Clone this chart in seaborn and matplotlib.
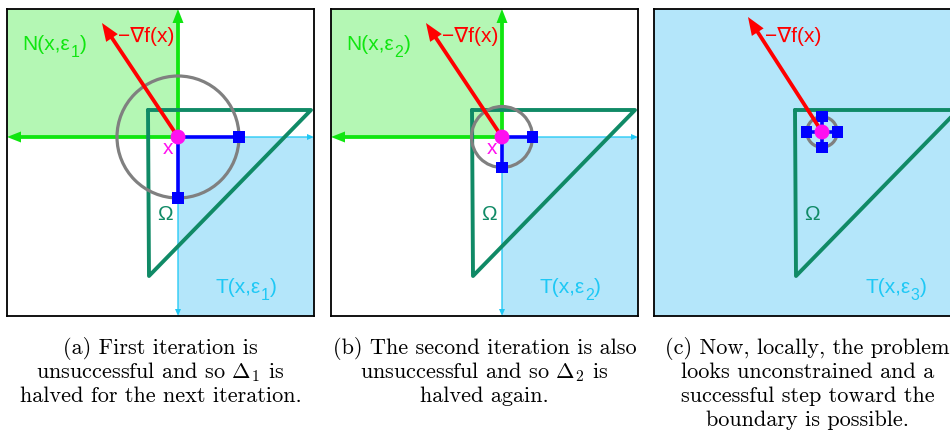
import numpy as np
import pandas as pd
import matplotlib
matplotlib.use("Agg")
import matplotlib.pyplot as plt
from matplotlib.patches import Circle, Rectangle
import seaborn as sns

# ---------------- data (box-pixel units, y pointing down) ----------------
panel_ids = ["a", "b", "c"]
center_x = [171, 171, 168]
center_y = [128, 128, 123]
radii = [61, 30.5, 15.25]
grad_dx = [-76, -76, -74]
grad_dy = [-114, -114, -115]
tri_x = [141, 304, 142]
tri_y = [101, 101, 267]
eps_idx = ["1", "2", "3"]
show_cones = [True, True, False]
poll_dirs = [[(1, 0), (0, 1)], [(1, 0), (0, 1)], [(1, 0), (-1, 0), (0, 1), (0, -1)]]
captions = [
    ["(a) First iteration is", r"unsuccessful and so $\Delta_1$ is", "halved for the next iteration."],
    ["(b) The second iteration is also", r"unsuccessful and so $\Delta_2$ is", "halved again."],
    ["(c) Now, locally, the problem", "looks unconstrained and a", "successful step toward the", "boundary is possible."],
]

BOX = 307
W, H = 950, 433
panel_left = [7, 331, 654]
panel_top = 9

GREEN = "#10e610"
GREEN_FILL = "#b4f7b4"
CYAN = "#1ec8f5"
CYAN_FILL = "#b4e6fa"
TEAL = "#108a66"
RED = "#ff0000"
BLUE = "#0000ff"
MAGENTA = "#ff10f0"
GRAY = "#808080"

sns.set_theme(style="white")
plt.rcParams["mathtext.fontset"] = "cm"
plt.rcParams["font.family"] = ["Liberation Sans", "DejaVu Sans"]

fig = plt.figure(figsize=(W / 100, H / 100), dpi=100)
renderer = fig.canvas.get_renderer()
sans = ["Liberation Sans", "DejaVu Sans"]


def sub_label(ax, x, y, base, sub, tail, color):
    """Draw base + lowered subscript + tail, y is the baseline (data units = px)."""
    t1 = ax.text(x, y, base, color=color, fontsize=15, family=sans,
                 va="baseline", ha="left", zorder=9)
    x1 = ax.transData.inverted().transform(t1.get_window_extent(renderer).p1)[0]
    t2 = ax.text(x1 + 0.5, y + 7, sub, color=color, fontsize=11.5, family=sans,
                 va="baseline", ha="left", zorder=9)
    x2 = ax.transData.inverted().transform(t2.get_window_extent(renderer).p1)[0]
    ax.text(x2 + 0.5, y, tail, color=color, fontsize=15, family=sans,
            va="baseline", ha="left", zorder=9)


for i in range(3):
    ax = fig.add_axes([panel_left[i] / W, (H - panel_top - BOX) / H, BOX / W, BOX / H])
    ax.set_xlim(0, BOX)
    ax.set_ylim(BOX, 0)
    cx, cy, r = center_x[i], center_y[i], radii[i]

    if show_cones[i]:
        ax.add_patch(Rectangle((0, 0), cx, cy, color=GREEN_FILL, lw=0, zorder=0))
        ax.add_patch(Rectangle((cx, cy), BOX - cx, BOX - cy, color=CYAN_FILL, lw=0, zorder=0))
        # tangent cone arrows
        ax.arrow(cx, cy, BOX - cx, 0, width=1.3, head_width=6, head_length=7,
                 length_includes_head=True, color=CYAN, lw=0, zorder=1)
        ax.arrow(cx, cy, 0, BOX - cy, width=1.3, head_width=6, head_length=7,
                 length_includes_head=True, color=CYAN, lw=0, zorder=1)
        # normal cone arrows
        ax.arrow(cx, cy, -cx, 0, width=3.8, head_width=11, head_length=14,
                 length_includes_head=True, color=GREEN, lw=0, zorder=2)
        ax.arrow(cx, cy, 0, -cy, width=3.8, head_width=11, head_length=14,
                 length_includes_head=True, color=GREEN, lw=0, zorder=2)
        sub_label(ax, 15, 41, "N(x,ε", eps_idx[i], ")", GREEN)
    else:
        ax.set_facecolor(CYAN_FILL)

    # feasible region
    tri = pd.DataFrame({"x": tri_x + [tri_x[0]], "y": tri_y + [tri_y[0]]})
    sns.lineplot(data=tri, x="x", y="y", sort=False, estimator=None, color=TEAL,
                 lw=2.8, ax=ax, zorder=3)
    # trust region
    ax.add_patch(Circle((cx, cy), r, fill=False, ec=GRAY, lw=2.3, zorder=4))
    # poll steps
    px = [cx + dx * r for dx, dy in poll_dirs[i]]
    py = [cy + dy * r for dx, dy in poll_dirs[i]]
    for xx, yy in zip(px, py):
        ax.plot([cx, xx], [cy, yy], color=BLUE, lw=2.6, zorder=5, solid_capstyle="butt")
    sns.scatterplot(x=px, y=py, marker="s", s=65, color=BLUE, edgecolor="none",
                    ax=ax, zorder=6)
    # gradient
    ax.arrow(cx, cy, grad_dx[i], grad_dy[i], width=3.8, head_width=14, head_length=18,
             length_includes_head=True, color=RED, lw=0, zorder=7)
    sns.scatterplot(x=[cx], y=[cy], s=115, color=MAGENTA, edgecolor="none", ax=ax, zorder=8)

    ax.text(111, 33, "−∇f(x)", color=RED, fontsize=15, family=sans,
            va="baseline", ha="left", zorder=9)
    if show_cones[i]:
        ax.text(161, 139, "x", color=MAGENTA, fontsize=15, family=sans,
                va="center", ha="center", zorder=9)
    ax.text(158, 205, "Ω", color=TEAL, fontsize=15, family=sans,
            va="center", ha="center", zorder=9)
    sub_label(ax, 208 + (3 if i == 2 else 0), 284, "T(x,ε", eps_idx[i], ")", CYAN)

    ax.set_xlabel("")
    ax.set_ylabel("")
    ax.set_xticks([])
    ax.set_yticks([])
    for s in ax.spines.values():
        s.set_visible(True)
        s.set_color("black")
        s.set_linewidth(1.3)
        s.set_zorder(10)

    # caption
    ccx = (panel_left[i] + BOX / 2) / W
    for k, line in enumerate(captions[i]):
        fig.text(ccx, 1 - (348 + 24 * k) / H, line, ha="center", va="center",
                 fontsize=16, family="cmr10", color="black")

fig.savefig("out.png", dpi=100)
